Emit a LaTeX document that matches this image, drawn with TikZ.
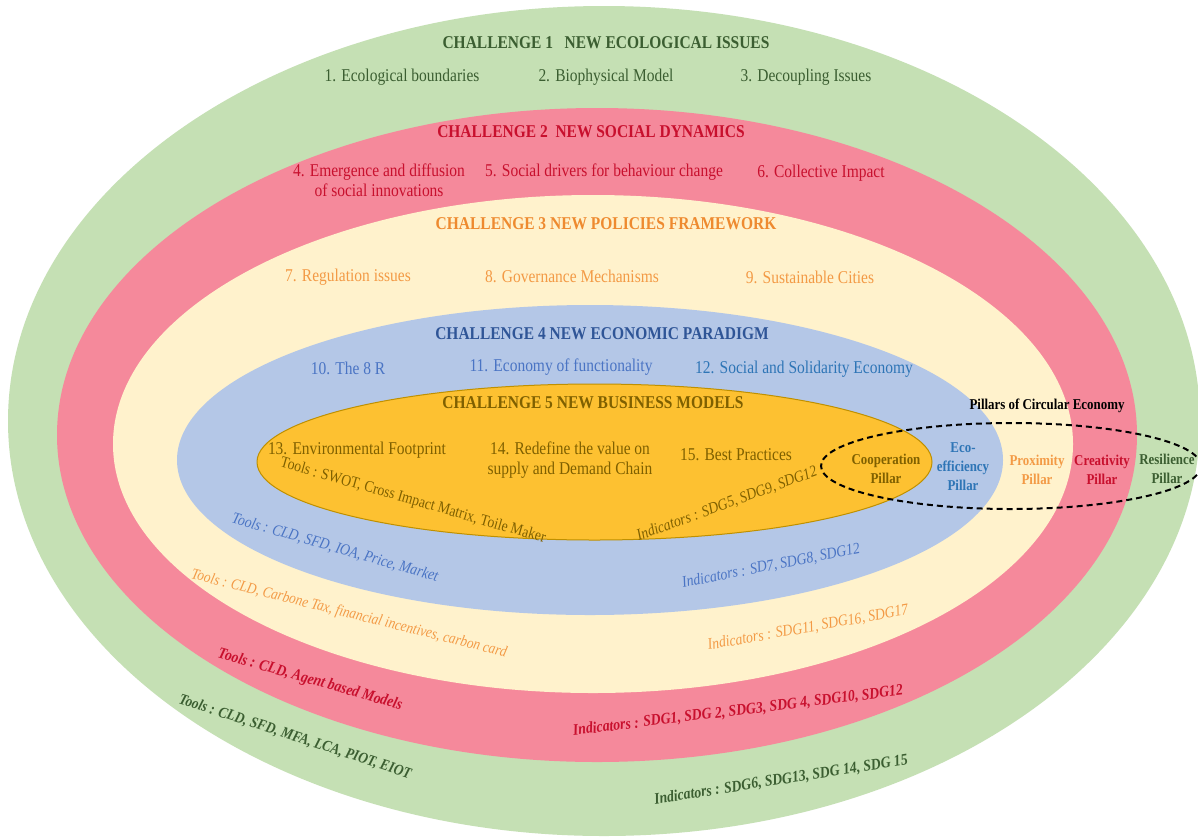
\documentclass[tikz,border=0pt]{standalone}
\usepackage{fontspec}
\setmainfont{Liberation Serif}[FakeStretch=0.86]
\definecolor{gfill}{HTML}{C5E0B4}
\definecolor{rfill}{HTML}{F5899B}
\definecolor{cfill}{HTML}{FFF2CC}
\definecolor{bfill}{HTML}{B4C7E7}
\definecolor{ofill}{HTML}{FDC131}
\definecolor{oline}{HTML}{BF9000}
\definecolor{tgreen}{HTML}{3B5E31}
\definecolor{tred}{HTML}{C8102E}
\definecolor{torange}{HTML}{F39A45}
\definecolor{torangeT}{HTML}{EE8A2F}
\definecolor{tblueT}{HTML}{2F5597}
\definecolor{tblue}{HTML}{4A74C4}
\definecolor{tblueB}{HTML}{2E75B6}
\definecolor{tbrown}{HTML}{7F6000}
\begin{document}
\begin{tikzpicture}[x=1pt,y=-1pt,
  ttl/.style={font=\fontsize{18}{21}\selectfont\bfseries, inner sep=0pt},
  itm/.style={font=\fontsize{18}{20}\selectfont, inner sep=0pt, align=center},
  tool/.style={font=\fontsize{16}{18}\selectfont\itshape, inner sep=0pt},
  btool/.style={font=\fontsize{16}{18}\selectfont\bfseries\itshape, inner sep=0pt},
  pil/.style={font=\fontsize{15}{19}\selectfont\bfseries, inner sep=0pt, align=center}]
\useasboundingbox (0,0) rectangle (1198,836);
\fill[white] (0,0) rectangle (1198,836);
\begin{scope}
\clip (0,0) rectangle (1198,836);
\fill[gfill] (604,421) ellipse [x radius=596, y radius=415];
\fill[rfill] (597,435) ellipse [x radius=540, y radius=327];
\fill[cfill] (593,444) ellipse [x radius=480, y radius=249];
\fill[bfill] (590,460) ellipse [x radius=413, y radius=155];
\filldraw[fill=ofill, draw=oline, line width=1pt] (594.5,462) ellipse [x radius=337.5, y radius=78];
\draw[black, line width=2pt, dash pattern=on 6pt off 4pt] (1011,466) ellipse [x radius=190, y radius=43];
\end{scope}
% Challenge 1
\node[ttl, text=tgreen] (c1) at (606,43) {CHALLENGE 1\ \ \ NEW ECOLOGICAL ISSUES};
\node[itm, text=tgreen] (i1) at (402,77) {1. Ecological boundaries};
\node[itm, text=tgreen] (i2) at (606,77) {2. Biophysical Model};
\node[itm, text=tgreen] (i3) at (806,77) {3. Decoupling Issues};
% Challenge 2
\node[ttl, text=tred] (c2) at (591,132) {CHALLENGE 2\ \ NEW SOCIAL DYNAMICS};
\node[itm, text=tred] (i4) at (379,180) {4. Emergence and diffusion\\of social innovations};
\node[itm, text=tred] (i5) at (604,172) {5. Social drivers for behaviour change};
\node[itm, text=tred] (i6) at (821,173) {6. Collective Impact};
% Challenge 3
\node[ttl, text=torangeT] (c3) at (606,224) {CHALLENGE 3 NEW POLICIES FRAMEWORK};
\node[itm, text=torange] (i7) at (348,277) {7. Regulation issues};
\node[itm, text=torange] (i8) at (572,276) {8. Governance Mechanisms};
\node[itm, text=torange] (i9) at (810,277) {9. Sustainable Cities};
% Challenge 4
\node[ttl, text=tblueT] (c4) at (602,334) {CHALLENGE 4 NEW ECONOMIC PARADIGM};
\node[itm, text=tblue] (i10) at (348,368) {10. The 8 R};
\node[itm, text=tblue] (i11) at (561,367) {11. Economy of functionality};
\node[itm, text=tblueB] (i12) at (804,369) {12. Social and Solidarity Economy};
% Challenge 5
\node[ttl, text=tbrown] (c5) at (593,403) {CHALLENGE 5 NEW BUSINESS MODELS};
\node[itm, text=tbrown] (i13) at (357,450) {13. Environmental Footprint};
\node[itm, text=tbrown] (i14) at (570,460) {14. Redefine the value on\\supply and Demand Chain};
\node[itm, text=tbrown] (i15) at (736,455) {15. Best Practices};
% Tools / indicators
\node[tool, text=tbrown, font=\fontsize{16}{18}\selectfont, rotate=-16] (t5) at (413,501) {Tools : SWOT, Cross Impact Matrix, Toile Maker};
\node[tool, text=tbrown, rotate=20] (n5) at (727,504) {Indicators : SDG5, SDG9, SDG12};
\node[tool, text=tblue, rotate=-16] (t4) at (335,548) {Tools : CLD, SFD, IOA, Price, Market};
\node[tool, text=tblue, rotate=11] (n4) at (771,566) {Indicators : SD7, SDG8, SDG12};
\node[tool, text=torange, font=\fontsize{15.5}{18}\selectfont\itshape, rotate=-14] (t3) at (349,614) {Tools : CLD, Carbone Tax, financial incentives, carbon card};
\node[tool, text=torange, rotate=10] (n3) at (808,628) {Indicators : SDG11, SDG16, SDG17};
\node[btool, text=tred, rotate=-16] (t2) at (310,680) {Tools : CLD, Agent based Models};
\node[btool, text=tred, rotate=7] (n2) at (738,711) {Indicators : SDG1, SDG 2, SDG3, SDG 4, SDG10, SDG12};
\node[btool, text=tgreen, font=\fontsize{15.5}{18}\selectfont\bfseries\itshape, rotate=-18] (t1) at (295,737) {Tools : CLD, SFD, MFA, LCA, PIOT, EIOT};
\node[btool, text=tgreen, rotate=9] (n1) at (781,780) {Indicators : SDG6, SDG13, SDG 14, SDG 15};
% Pillars
\node[pil, text=black] (pce) at (1047,406) {Pillars of Circular Economy};
\node[pil, text=tbrown] (p1) at (886,469) {Cooperation\\Pillar};
\node[pil, text=tblueB] (p2) at (963,467) {Eco-\\efficiency\\Pillar};
\node[pil, text=torange] (p3) at (1037,470) {Proximity\\Pillar};
\node[pil, text=tred] (p4) at (1102,470) {Creativity\\Pillar};
\node[pil, text=tgreen] (p5) at (1167,469) {Resilience\\Pillar};
\end{tikzpicture}
\end{document}
